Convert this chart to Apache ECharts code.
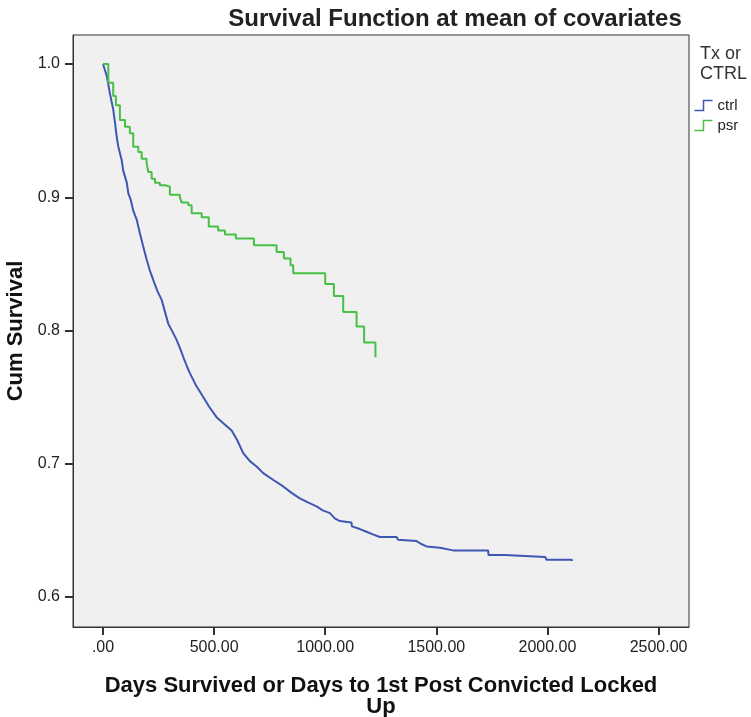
<!DOCTYPE html>
<html>
<head>
<meta charset="utf-8">
<script src="https://cdn.jsdelivr.net/npm/echarts@6/dist/echarts.min.js"></script>
<style>
  html, body { margin: 0; padding: 0; background: #fff; }
  #chart_box { width: 751px; height: 717px; }
</style>
</head>
<body>
<div id="chart_box"></div>
<script>
// ctrl 组：曲线点（尾部的平台用成对的点表示）
var ctrlDays = [0, 17, 31, 46, 54, 62, 69, 84, 91, 107, 114, 125, 136, 152, 166, 181, 197, 211, 226, 244,
  264, 279, 294, 313, 331, 346, 364, 378, 391, 418, 444, 477, 511, 544, 579, 603, 631, 661, 691, 721,
  765, 811, 850, 886, 922, 961, 989, 1021, 1043, 1066, 1118, 1120, 1156, 1186, 1214, 1246, 1321, 1328,
  1411, 1430, 1456, 1516, 1575, 1733, 1735, 1808, 1810, 1990, 1996, 2110, 2110];
var ctrlSurv = [1.000, 0.991, 0.978, 0.966, 0.956, 0.945, 0.938, 0.928, 0.920, 0.911, 0.903, 0.898, 0.890,
  0.883, 0.873, 0.863, 0.853, 0.845, 0.838, 0.830, 0.823, 0.814, 0.805, 0.799, 0.793, 0.787, 0.779, 0.773,
  0.768, 0.759, 0.752, 0.743, 0.735, 0.730, 0.725, 0.718, 0.708, 0.702, 0.698, 0.693, 0.688, 0.683, 0.678,
  0.674, 0.671, 0.668, 0.665, 0.663, 0.659, 0.657, 0.656, 0.653, 0.651, 0.649, 0.647, 0.645, 0.645, 0.643,
  0.642, 0.640, 0.638, 0.637, 0.635, 0.635, 0.6315, 0.6315, 0.630, 0.630, 0.628, 0.628, 0.627];

// psr 组：阶梯
var psrDays = [0, 24, 46, 58, 76, 99, 121, 136, 159, 174, 196, 204, 219, 234, 256, 279, 301, 346, 354, 384,
  399, 444, 476, 518, 549, 598, 679, 781, 814, 844, 856, 1000, 1039, 1081, 1141, 1175, 1226];
var psrSurv = [1.000, 0.986, 0.976, 0.969, 0.958, 0.953, 0.948, 0.938, 0.934, 0.929, 0.926, 0.919, 0.914,
  0.911, 0.909, 0.908, 0.902, 0.900, 0.896, 0.894, 0.888, 0.885, 0.878, 0.875, 0.872, 0.869, 0.864, 0.859,
  0.854, 0.849, 0.843, 0.835, 0.826, 0.814, 0.803, 0.791, 0.780];

var xTicks = [0, 500, 1000, 1500, 2000, 2500];
var yTicks = [0.6, 0.7, 0.8, 0.9, 1.0];

var blue = "#3d57b3";
var green = "#46c146";
var font = "'Liberation Sans', Arial, sans-serif";

function pairs(days, surv) {
  return days.map(function (d, i) { return [d, surv[i]]; });
}

var mycharts = echarts.init(document.getElementById("chart_box"));

var option = {
  animation: false,
  backgroundColor: "#fff",
  title: {
    text: "Survival Function at mean of covariates",
    left: 450,
    top: 2,
    textAlign: "center",
    textStyle: { fontFamily: font, fontSize: 24, fontWeight: "bold", color: "#222" }
  },
  graphic: [{
    type: "text",
    left: 700,
    top: 44,
    style: {
      text: "Tx or\nCTRL",
      fontFamily: font,
      fontSize: 18,
      lineHeight: 20,
      fill: "#333",
      align: "center"
    }
  }],
  legend: {
    orient: "vertical",
    left: 692,
    top: 98,
    padding: 0,
    itemWidth: 18,
    itemHeight: 10,
    itemGap: 5,
    textStyle: { fontFamily: font, fontSize: 15, color: "#222" },
    data: [
      {
        name: "ctrl",
        icon: "path://M0,10 L9,10 L9,0 L18,0",
        itemStyle: { color: "none", borderColor: blue, borderWidth: 1.5 },
        lineStyle: { opacity: 0 }
      },
      {
        name: "psr",
        icon: "path://M0,10 L9,10 L9,0 L18,0",
        itemStyle: { color: "none", borderColor: green, borderWidth: 1.5 },
        lineStyle: { opacity: 0 }
      }
    ]
  },
  grid: {
    left: 73,
    top: 35,
    right: 62,
    bottom: 90,
    outerBoundsMode: "none",
    containLabel: false,
    show: true,
    backgroundColor: "#f0f0f0",
    borderColor: "#333",
    borderWidth: 1
  },
  xAxis: {
    type: "value",
    min: -135,
    max: 2637,
    name: "Days Survived or Days to 1st Post Convicted Locked\nUp",
    nameLocation: "middle",
    nameGap: 48,
    nameTextStyle: { fontFamily: font, fontSize: 22, fontWeight: "bold", color: "#111", lineHeight: 21 },
    axisLine: { onZero: false, lineStyle: { color: "#333" } },
    axisTick: { customValues: xTicks, length: 8, lineStyle: { color: "#333", width: 2 } },
    axisLabel: {
      customValues: xTicks,
      margin: 13,
      fontFamily: font,
      fontSize: 16,
      color: "#222",
      formatter: function (v) { return v === 0 ? ".00" : v.toFixed(2); }
    },
    splitLine: { show: false }
  },
  yAxis: {
    type: "value",
    min: 0.5775,
    max: 1.0218,
    name: "Cum Survival",
    nameLocation: "middle",
    nameGap: 46,
    nameTextStyle: { fontFamily: font, fontSize: 22, fontWeight: "bold", color: "#111" },
    axisLine: { show: true, onZero: false, lineStyle: { color: "#333" } },
    axisTick: { show: true, customValues: yTicks, length: 8, lineStyle: { color: "#333", width: 2 } },
    axisLabel: {
      customValues: yTicks,
      margin: 13,
      fontFamily: font,
      fontSize: 16,
      color: "#222",
      formatter: function (v) { return v.toFixed(1); }
    },
    splitLine: { show: false }
  },
  series: [
    {
      name: "ctrl",
      type: "line",
      showSymbol: false,
      symbol: "none",
      lineStyle: { color: blue, width: 2 },
      itemStyle: { color: blue },
      data: pairs(ctrlDays, ctrlSurv)
    },
    {
      name: "psr",
      type: "line",
      step: "end",
      showSymbol: false,
      symbol: "none",
      lineStyle: { color: green, width: 2 },
      itemStyle: { color: green },
      data: pairs(psrDays, psrSurv)
    }
  ]
};

mycharts.setOption(option);
</script>
</body>
</html>
